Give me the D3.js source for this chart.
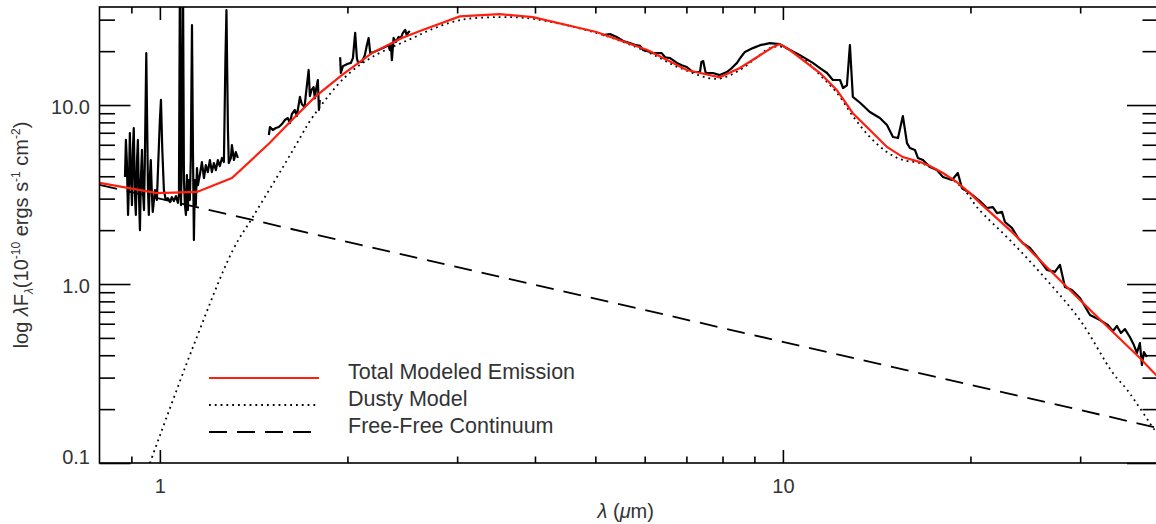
<!DOCTYPE html>
<html>
<head>
<meta charset="utf-8">
<script src="https://cdn.jsdelivr.net/npm/d3@7"></script>
<style>
  body { margin: 0; background: #fff; }
  svg text { font-family: "Liberation Sans", Arial, Helvetica, sans-serif; fill: #333; }
</style>
</head>
<body>
<svg id="chart" width="1156" height="524"></svg>
<script>
// ---- observed spectrum, wavelength (um) vs lambda F_lambda (1e-10 ergs s^-1 cm^-2) ----
var nirSegment1 = [
  [0.879,3.96],[0.882,6.38],[0.885,4.93],[0.889,2.43],[0.892,3.57],[0.895,6.98],[0.898,4.33],
  [0.902,2.76],[0.905,5.61],[0.908,7.44],[0.912,3.14],[0.915,2.43],[0.919,4.93],[0.922,6.38],
  [0.925,3.35],[0.929,2.00],[0.932,3.81],[0.936,5.61],[0.939,3.35],[0.943,2.59],[0.946,4.93],
  [0.951,19.5],[0.957,3.35],[0.960,2.43],[0.964,4.06],[0.967,4.93],[0.971,3.14],[0.974,2.53],
  [0.982,3.35],[0.989,2.95],[0.993,4.33],[1.000,8.25],[1.004,10.7],[1.009,5.61],[1.015,3.35],
  [1.022,2.95],[1.030,3.02],[1.038,2.87],[1.045,3.06],[1.053,2.91],[1.061,3.10],[1.069,2.84],
  [1.073,3.14],[1.077,60],[1.081,2.76],[1.085,5.61],[1.089,60],[1.093,3.81],[1.097,2.76],
  [1.101,2.43],[1.105,4.06],[1.109,2.59],[1.113,3.81],[1.117,2.95],[1.121,4.93],[1.126,28.0],
  [1.130,5.61],[1.134,1.76],[1.138,3.81],[1.142,2.76],[1.147,4.45],[1.151,3.57],[1.159,4.06],
  [1.168,4.80],[1.177,3.91],[1.185,4.62],[1.194,4.22],[1.203,4.93],[1.212,4.22],[1.221,4.74],
  [1.230,4.33],[1.239,4.93],[1.248,4.56],[1.258,5.06],[1.267,4.80],[1.274,17.8],[1.279,33.9],
  [1.286,7.25],[1.290,4.74],[1.300,5.06],[1.305,5.98],[1.315,4.93],[1.324,5.46],[1.334,5.06]
];
var nirSegment2 = [
  [1.496,6.80],[1.502,7.54],[1.518,7.25],[1.535,7.44],[1.552,7.54],[1.570,7.83],[1.587,8.25],
  [1.605,8.46],[1.617,7.93],[1.629,8.91],[1.647,9.38],[1.659,8.68],[1.678,11.1],[1.690,10.1],
  [1.707,9.75],[1.715,11.4],[1.733,15.7],[1.741,11.2],[1.751,12.1],[1.765,12.6],[1.773,10.9],
  [1.780,12.1],[1.793,13.8],[1.800,9.38],[1.806,10.7]
];
var nirSegment3 = [
  [1.947,18.5],[1.952,15.1],[1.967,16.5],[1.981,16.7],[2.003,17.0],[2.026,17.2],[2.041,18.3],
  [2.058,25.3],[2.071,18.3],[2.079,17.4],[2.110,17.4],[2.133,19.0],[2.149,21.6],[2.163,23.7],
  [2.176,19.5],[2.205,19.8],[2.244,20.3],[2.280,20.8],[2.329,21.6],[2.340,20.3],[2.349,21.6],
  [2.357,17.8],[2.372,23.7],[2.392,22.5],[2.416,24.0],[2.437,23.7],[2.455,25.3],[2.476,26.3],
  [2.492,24.3],[2.501,25.3],[2.519,25.9]
];
var midIrSpectrum = [
  [5.14,24.6],[5.28,24.9],[5.41,24.0],[5.54,22.8],[5.68,22.2],[5.81,21.6],[5.90,21.4],[5.96,20.3],
  [6.07,20.0],[6.19,19.5],[6.30,19.5],[6.39,19.5],[6.47,18.5],[6.59,18.3],[6.76,17.2],[6.88,16.7],
  [7.01,16.3],[7.17,15.3],[7.36,15.3],[7.40,17.4],[7.45,17.6],[7.50,15.7],[7.52,15.1],[7.72,15.1],
  [7.92,14.7],[8.13,15.3],[8.28,16.1],[8.44,17.2],[8.56,18.5],[8.69,19.8],[8.95,20.8],[9.19,21.6],
  [9.53,22.2],[9.89,21.9],[10.26,20.3],[10.65,19.0],[11.17,17.2],[11.47,16.1],[11.77,15.1],
  [12.03,13.8],[12.35,13.8],[12.49,12.45],[12.67,12.9],[12.81,21.6],[12.95,11.1],[13.30,10.3],
  [13.79,9.14],[14.31,8.46],[14.69,7.73],[15.02,6.63],[15.30,6.54],[15.58,8.68],[15.82,6.13],
  [15.99,5.75],[16.29,5.61],[16.47,5.06],[16.78,4.93],[17.22,4.50],[17.67,4.33],[18.07,3.96],
  [18.68,3.81],[19.09,4.17],[19.38,3.44],[19.96,3.22],[20.71,2.91],[21.26,2.66],[21.73,2.69],
  [22.06,2.49],[22.47,2.53],[22.72,2.22],[23.31,2.06],[23.84,1.81],[24.28,1.69],[24.92,1.59],
  [25.67,1.40],[26.53,1.20],[27.33,1.17],[27.84,1.28],[28.36,0.962],[29.10,0.926],[29.98,0.835],
  [31.11,0.671],[32.28,0.629],[33.23,0.590],[33.86,0.546],[34.36,0.583],[34.88,0.532],[35.40,0.560],
  [36.05,0.506],[36.59,0.456],[37.00,0.412],[37.41,0.468],[37.69,0.353],[37.97,0.417],[38.39,0.391]
];

// ---- models ----
var totalModel = [
  [0.8,3.67],[0.99,3.22],[1.147,3.27],[1.305,3.91],[1.50,6.13],[1.647,8.57],[1.774,11.1],
  [1.959,14.7],[2.189,19.5],[2.446,23.7],[2.634,26.2],[3.03,31.3],[3.51,32.2],[3.97,31.0],
  [5.02,25.6],[6.06,20.3],[7.01,15.7],[7.92,14.3],[8.53,16.1],[9.085,18.5],[9.64,21.1],
  [9.89,21.9],[10.26,20.3],[11.47,15.1],[12.21,12.1],[12.95,9.0],[13.79,7.25],[14.69,5.83],
  [15.58,5.12],[16.60,4.80],[17.22,4.56],[18.07,4.17],[19.02,3.71],[19.96,3.22],[20.71,2.84],
  [23.40,1.93],[26.53,1.24],[29.98,0.814],[33.86,0.539],[37.41,0.386],[40,0.302]
];
var dustyModel = [
  [0.964,0.1],[1.126,0.43],[1.31,1.55],[1.41,2.37],[1.576,4.5],[1.66,6.13],[1.76,8.6],
  [1.982,14.3],[2.189,18.5],[2.567,24.0],[2.71,26.2],[3.03,29.8],[3.51,31.0],[3.97,30.3],
  [5.02,25.3],[6.06,19.8],[6.84,16.1],[7.83,14.0],[8.53,15.7],[9.085,18.5],[9.53,20.8],
  [10.0,21.1],[10.77,18.3],[11.47,14.7],[12.21,11.7],[12.95,8.68],[13.79,6.63],[14.69,5.46],
  [15.58,4.93],[16.6,4.74],[17.67,4.33],[18.75,3.81],[19.74,3.22],[20.48,2.69],[23.4,1.69],
  [26.53,1.05],[29.98,0.629],[33.86,0.318],[35.7,0.256],[39.5,0.153],[40,0.145]
];
var freeFree = [[0.8,3.58],[40,0.157]];

// ---- axes ----
var xMajorTicks = [1, 10];
var xMinorTicks = [0.9, 2, 3, 4, 5, 6, 7, 8, 9, 20, 30];
var yMajorTicks = [0.1, 1, 10];
var yMinorTicks = [0.2, 0.3, 0.4, 0.5, 0.6, 0.7, 0.8, 0.9, 2, 3, 4, 5, 6, 7, 8, 9, 20, 30];
var legendLabels = ["Total Modeled Emission", "Dusty Model", "Free-Free Continuum"];

var plot = {left: 99.5, right: 1158, top: 7, bottom: 463};

var x = d3.scaleLog().domain([0.8, 40]).range([plot.left, plot.right]);
var y = d3.scaleLog().domain([0.1, 35.3]).range([plot.bottom, plot.top]);

var svg = d3.select("#chart");
svg.append("rect").attr("width", 1156).attr("height", 524).attr("fill", "#fff");

svg.append("clipPath").attr("id", "plotClip")
  .append("rect")
  .attr("x", plot.left).attr("y", plot.top)
  .attr("width", plot.right - plot.left).attr("height", plot.bottom - plot.top);

var line = d3.line().x(function(d) { return x(d[0]); }).y(function(d) { return y(d[1]); });
var smoothLine = d3.line().curve(d3.curveCatmullRom.alpha(0.5))
  .x(function(d) { return x(d[0]); }).y(function(d) { return y(d[1]); });

var lines = svg.append("g").attr("clip-path", "url(#plotClip)").attr("fill", "none");

// free-free continuum (dashed)
lines.append("path").datum(freeFree)
  .attr("d", line).attr("stroke", "#000").attr("stroke-width", 1.8)
  .attr("stroke-dasharray", "18,10");

// dusty model (dotted)
lines.append("path").datum(dustyModel)
  .attr("d", smoothLine).attr("stroke", "#000").attr("stroke-width", 1.8)
  .attr("stroke-dasharray", "1.8,4");

// observed spectrum
[nirSegment1, nirSegment2, nirSegment3, midIrSpectrum].forEach(function(seg) {
  lines.append("path").datum(seg)
    .attr("d", line).attr("stroke", "#000").attr("stroke-width", 2.2)
    .attr("stroke-linejoin", "round");
});

// total model
lines.append("path").datum(totalModel)
  .attr("d", line).attr("stroke", "#ff1f0f").attr("stroke-width", 2.2);

// frame
svg.append("rect")
  .attr("x", plot.left).attr("y", plot.top)
  .attr("width", plot.right - plot.left).attr("height", plot.bottom - plot.top)
  .attr("fill", "none").attr("stroke", "#000").attr("stroke-width", 1.6);

function styleAxis(g) {
  g.select(".domain").remove();
  g.selectAll(".tick line").attr("stroke", "#000").attr("stroke-width", 1.6);
  g.selectAll(".tick text").attr("fill", "#333")
    .style("font-family", '"Liberation Sans", Arial, Helvetica, sans-serif')
    .style("font-size", "20px");
}

// bottom
svg.append("g").attr("transform", "translate(0," + plot.bottom + ")")
  .call(d3.axisBottom(x).tickValues(xMajorTicks).tickSize(-13).tickSizeOuter(0)
    .tickPadding(16).tickFormat(d3.format("d")))
  .call(styleAxis);
svg.append("g").attr("transform", "translate(0," + plot.bottom + ")")
  .call(d3.axisBottom(x).tickValues(xMinorTicks).tickSize(-6.5).tickSizeOuter(0).tickFormat(""))
  .call(styleAxis);
// top
svg.append("g").attr("transform", "translate(0," + plot.top + ")")
  .call(d3.axisTop(x).tickValues(xMajorTicks).tickSize(-13).tickSizeOuter(0).tickFormat(""))
  .call(styleAxis);
svg.append("g").attr("transform", "translate(0," + plot.top + ")")
  .call(d3.axisTop(x).tickValues(xMinorTicks).tickSize(-6.5).tickSizeOuter(0).tickFormat(""))
  .call(styleAxis);
// left
var leftAxis = svg.append("g").attr("transform", "translate(" + plot.left + ",0)")
  .call(d3.axisLeft(y).tickValues(yMajorTicks).tickSize(-31).tickSizeOuter(0)
    .tickPadding(9.5).tickFormat(d3.format(".1f")))
  .call(styleAxis);
leftAxis.selectAll(".tick text").attr("dy", function(d) { return d === 0.1 ? "-0.0em" : "0.42em"; });
svg.append("g").attr("transform", "translate(" + plot.left + ",0)")
  .call(d3.axisLeft(y).tickValues(yMinorTicks).tickSize(-15.5).tickSizeOuter(0).tickFormat(""))
  .call(styleAxis);
// right
svg.append("g").attr("transform", "translate(" + plot.right + ",0)")
  .call(d3.axisRight(y).tickValues(yMajorTicks).tickSize(-31).tickSizeOuter(0).tickFormat(""))
  .call(styleAxis);
svg.append("g").attr("transform", "translate(" + plot.right + ",0)")
  .call(d3.axisRight(y).tickValues(yMinorTicks).tickSize(-15.5).tickSizeOuter(0).tickFormat(""))
  .call(styleAxis);

// axis titles
var xTitle = svg.append("text")
  .attr("x", (plot.left + plot.right) / 2 - 3).attr("y", 518)
  .attr("text-anchor", "middle").style("font-size", "20px");
xTitle.append("tspan").style("font-style", "italic").text("λ");
xTitle.append("tspan").text(" (");
xTitle.append("tspan").style("font-style", "italic").text("μ");
xTitle.append("tspan").text("m)");

var yTitle = svg.append("text")
  .attr("transform", "translate(28," + ((plot.top + plot.bottom) / 2) + ") rotate(-90)")
  .attr("text-anchor", "middle").style("font-size", "20px");
yTitle.append("tspan").text("log ");
yTitle.append("tspan").style("font-style", "italic").text("λ");
yTitle.append("tspan").text("F");
yTitle.append("tspan").attr("dy", 5).style("font-size", "12px").style("font-style", "italic").text("λ");
yTitle.append("tspan").attr("dy", -5).text("(10");
yTitle.append("tspan").attr("dy", -8).style("font-size", "12px").text("-10");
yTitle.append("tspan").attr("dy", 8).text(" ergs s");
yTitle.append("tspan").attr("dy", -8).style("font-size", "12px").text("-1");
yTitle.append("tspan").attr("dy", 8).text(" cm");
yTitle.append("tspan").attr("dy", -8).style("font-size", "12px").text("-2");
yTitle.append("tspan").attr("dy", 8).text(")");

// legend
var legendStyles = [
  {stroke: "#ff1f0f", dash: null},
  {stroke: "#000", dash: "1.8,4"},
  {stroke: "#000", dash: "18,10"}
];
var legend = svg.append("g").attr("transform", "translate(209,378)");
var rows = legend.selectAll("g").data(legendLabels).enter().append("g")
  .attr("transform", function(d, i) { return "translate(0," + (i * 27) + ")"; });
rows.append("line")
  .attr("x1", 0).attr("x2", 110).attr("y1", 0).attr("y2", 0)
  .attr("stroke", function(d, i) { return legendStyles[i].stroke; })
  .attr("stroke-width", function(d, i) { return i === 0 ? 2.2 : 1.8; })
  .attr("stroke-dasharray", function(d, i) { return legendStyles[i].dash; });
rows.append("text")
  .attr("x", 139).attr("y", 1)
  .style("font-size", "21.5px")
  .text(function(d) { return d; });
</script>
</body>
</html>
